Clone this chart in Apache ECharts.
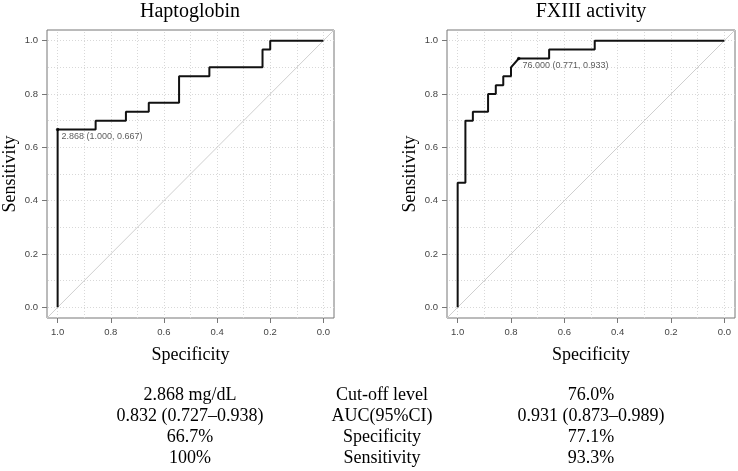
<!DOCTYPE html>
<html><head><meta charset="utf-8">
<script src="https://cdn.jsdelivr.net/npm/echarts@6/dist/echarts.min.js"></script>
<style>html,body{margin:0;padding:0;background:#fff}#c{width:738px;height:471px}</style>
</head><body><div id="c"></div>
<script>
// ---------- data ----------
const panelTitles = ['Haptoglobin', 'FXIII activity'];
const haptoSpec = [1, 1, 0.857, 0.857, 0.743, 0.743, 0.657, 0.657, 0.543, 0.543, 0.429, 0.429, 0.229, 0.229, 0.2, 0.2, 0];
const haptoSens = [0, 0.667, 0.667, 0.7, 0.7, 0.733, 0.733, 0.767, 0.767, 0.867, 0.867, 0.9, 0.9, 0.967, 0.967, 1, 1];
const fxiiiSpec = [1, 1, 0.971, 0.971, 0.943, 0.943, 0.886, 0.886, 0.857, 0.857, 0.829, 0.829, 0.8, 0.8, 0.771, 0.657, 0.657, 0.486, 0.486, 0];
const fxiiiSens = [0, 0.467, 0.467, 0.7, 0.7, 0.733, 0.733, 0.8, 0.8, 0.833, 0.833, 0.867, 0.867, 0.9, 0.933, 0.933, 0.967, 0.967, 1, 1];
const cutoffPoints = [[1.000, 0.667], [0.771, 0.933]];
const cutoffLabels = ['2.868 (1.000, 0.667)', '76.000 (0.771, 0.933)'];
const tickValues = [0, 0.2, 0.4, 0.6, 0.8, 1.0];
const gridValues = [0, 0.1, 0.2, 0.3, 0.4, 0.5, 0.6, 0.7, 0.8, 0.9, 1.0];
const xAxisName = 'Specificity';
const yAxisName = 'Sensitivity';
const tableRowLabels = ['Cut-off level', 'AUC(95%CI)', 'Specificity', 'Sensitivity'];
const haptoTable = ['2.868 mg/dL', '0.832 (0.727\u20130.938)', '66.7%', '100%'];
const fxiiiTable = ['76.0%', '0.931 (0.873\u20130.989)', '77.1%', '93.3%'];

// ---------- layout / style ----------
const axisMin = -0.04, axisMax = 1.04;
const serif = '"Liberation Serif", "Times New Roman", serif';
const sans = '"Liberation Sans", Arial, sans-serif';
const grids = [
  {left: 46, top: 30, width: 288, height: 288},
  {left: 447, top: 30, width: 288, height: 288}
];
const curves = [
  haptoSpec.map((s, i) => [s, haptoSens[i]]),
  fxiiiSpec.map((s, i) => [s, fxiiiSens[i]])
];

function axisCommon(i) {
  return {
    gridIndex: i, type: 'value', min: axisMin, max: axisMax,
    nameLocation: 'middle', nameGap: 28,
    nameTextStyle: {fontFamily: serif, fontSize: 18, color: '#000'},
    axisLine: {show: false, onZero: false},
    axisTick: {show: true, inside: false, length: 5, customValues: tickValues, lineStyle: {color: '#777'}},
    axisLabel: {show: true, customValues: tickValues, margin: 9, fontFamily: sans, fontSize: 9.5, color: '#444',
      formatter: v => v.toFixed(1)},
    splitLine: {show: false}
  };
}

const option = {
  animation: false,
  backgroundColor: '#fff',
  grid: grids.map(g => Object.assign({show: true, borderColor: '#777', borderWidth: 1, backgroundColor: 'transparent'}, g)),
  xAxis: grids.map((g, i) => Object.assign(axisCommon(i), {position: 'bottom', inverse: true, name: xAxisName})),
  yAxis: grids.map((g, i) => Object.assign(axisCommon(i), {position: 'left', name: yAxisName})),
  series: [],
  graphic: []
};

grids.forEach((g, i) => {
  // diagonal reference line + dotted grid
  option.series.push({
    type: 'line', xAxisIndex: i, yAxisIndex: i, silent: true, symbol: 'none', z: 1,
    data: [[axisMax, 1 - axisMax], [axisMin, 1 - axisMin]],
    lineStyle: {color: '#cfcfcf', width: 1},
    markLine: {
      silent: true, symbol: 'none', label: {show: false}, animation: false, z: 1,
      lineStyle: {type: [1, 2], color: '#d8d8d8', width: 1},
      data: gridValues.map(v => ({xAxis: v})).concat(gridValues.map(v => ({yAxis: v})))
    }
  });
  // ROC curve
  option.series.push({
    type: 'line', xAxisIndex: i, yAxisIndex: i, silent: true, symbol: 'none', z: 10,
    data: curves[i],
    lineStyle: {color: '#111', width: 2}
  });
  // cut-off point
  option.series.push({
    type: 'scatter', xAxisIndex: i, yAxisIndex: i, silent: true, z: 11,
    symbolSize: 3.5, itemStyle: {color: '#000'},
    data: [cutoffPoints[i]],
    label: {show: true, formatter: cutoffLabels[i], position: 'right', distance: 2, offset: [0, 7],
      fontFamily: sans, fontSize: 9, color: '#333'}
  });
  // panel title
  option.graphic.push({
    type: 'text', x: g.left + g.width / 2, y: 12, silent: true,
    style: {text: panelTitles[i], font: '20px ' + serif, fill: '#000', align: 'center', verticalAlign: 'middle'}
  });
});

// table below
const rowY = [395, 416.5, 437.5, 458];
const colX = [190, 382, 591];
const tableCols = [haptoTable, tableRowLabels, fxiiiTable];
tableCols.forEach((col, c) => {
  col.forEach((txt, r) => {
    option.graphic.push({
      type: 'text', x: colX[c], y: rowY[r], silent: true,
      style: {text: txt, font: '18px ' + serif, fill: '#000', align: 'center', verticalAlign: 'middle'}
    });
  });
});

const chart = echarts.init(document.getElementById('c'), null, {renderer: 'canvas'});
chart.setOption(option);
</script>
</body></html>
